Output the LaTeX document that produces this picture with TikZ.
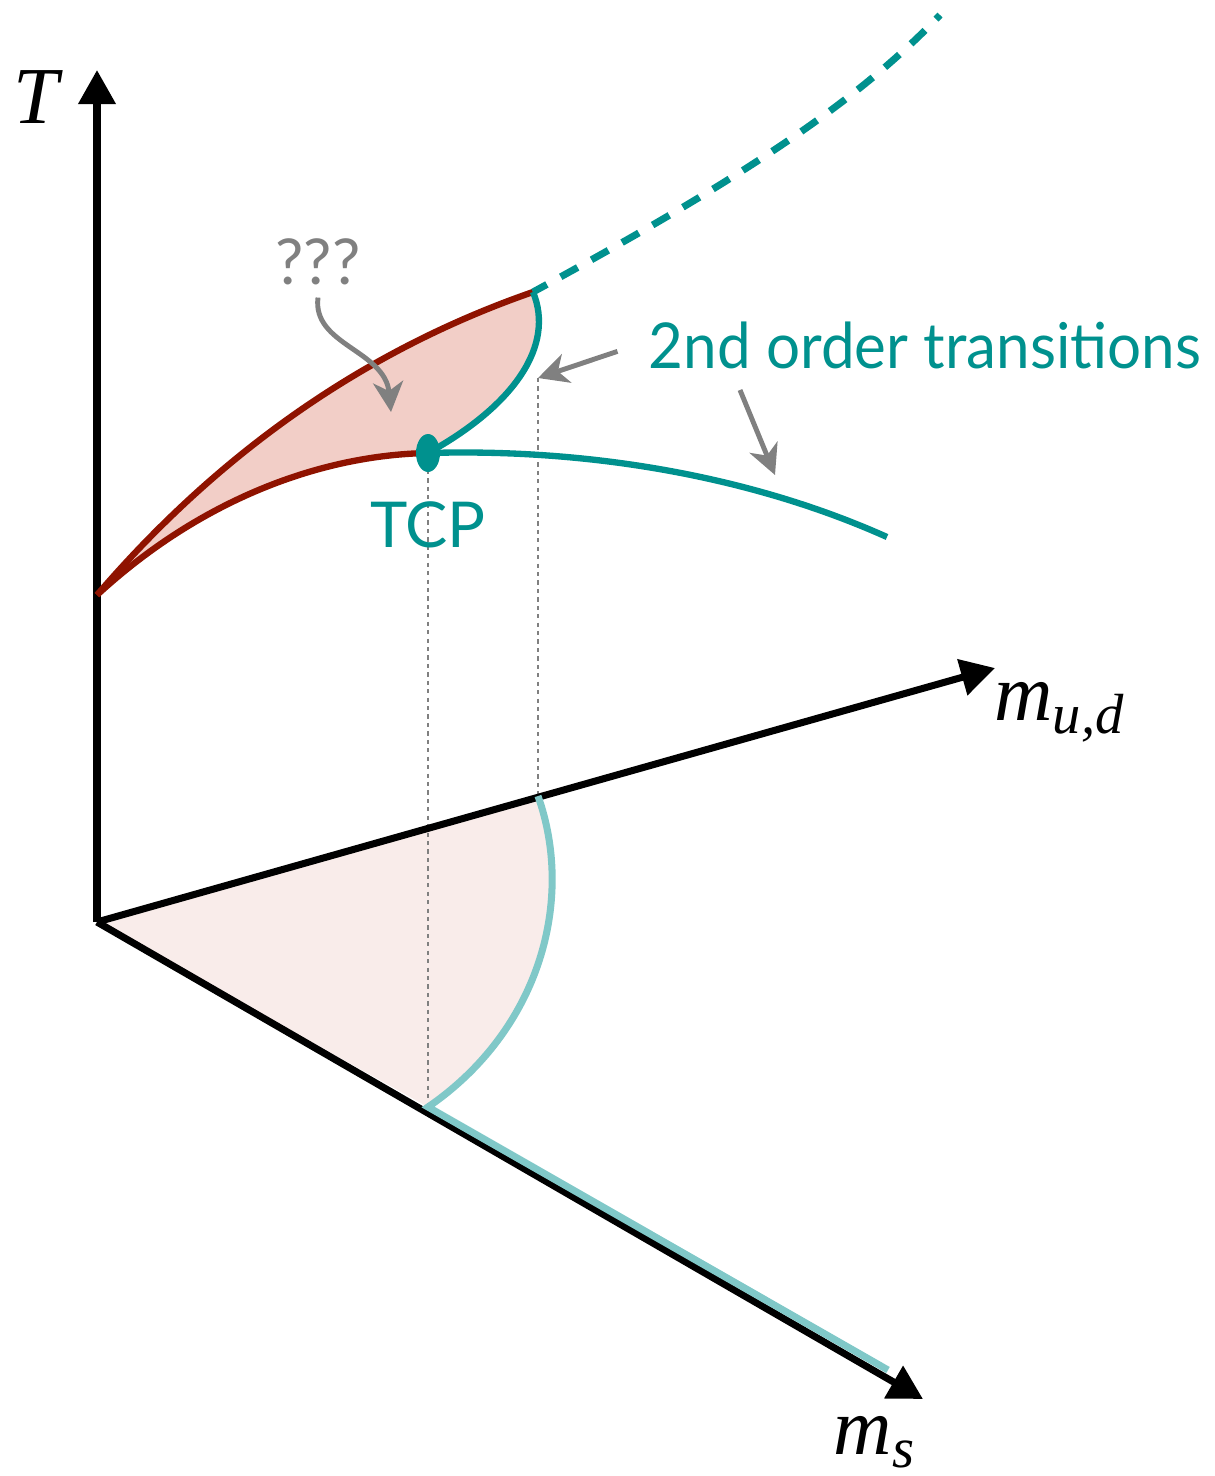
\documentclass[tikz,border=0pt]{standalone}
\usepackage{amsmath}
\usepackage{fontspec}
\setmainfont{Liberation Serif}
\newfontfamily\labelfont{Lato}
\usetikzlibrary{arrows.meta,shapes.geometric}
\definecolor{tcpteal}{HTML}{00918E}
\definecolor{lightteal}{HTML}{80C8C8}
\definecolor{firstred}{HTML}{8F1300}
\definecolor{regionpink}{HTML}{F2CEC7}
\definecolor{floorpink}{HTML}{F9ECEA}
\tikzset{
  axis/.style={line width=2pt,-{Triangle[length=3.4mm,width=3.6mm]}},
  firstorder/.style={firstred,line width=1.8pt},
  secondorder/.style={tcpteal,line width=1.8pt},
  pointer/.style={gray,line width=1.4pt,-{Stealth[length=3mm,width=3mm,inset=0.9mm]}},
  guide/.style={gray,line width=0.5pt,dash pattern=on 1.2pt off 1.2pt},
  lbl/.style={font=\labelfont\fontsize{18}{20}\selectfont},
  axlbl/.style={font=\fontsize{23}{27}\selectfont},
}
\begin{document}
\begin{tikzpicture}[x=0.1mm,y=-0.1mm]
  \useasboundingbox (0,0) rectangle (1215,1476);
  \coordinate (O) at (97,922);
  \coordinate (Ttip) at (97,70); \coordinate (mudtip) at (995,668); \coordinate (mstip) at (923,1399);
  \coordinate (start) at (97,595); \coordinate (tip) at (533,292); \coordinate (crit) at (428,453);
  \coordinate (udfoot) at (538,796); \coordinate (sfoot) at (428,1107); \coordinate (msend) at (888,1370);
  \coordinate (loopmark) at (538,378); \coordinate (tcpend) at (887,537); \coordinate (farend) at (940,15);
  \coordinate (qmark) at (391,412); \coordinate (arrstart) at (740,390); \coordinate (rightmark) at (775,475);
  % shaded regions
  \fill[regionpink] (start) .. controls (230,440) and (380,345) .. (tip) .. controls (555,345) and (515,405) .. (crit) .. controls (320,455) and (200,500) .. (start);
  \fill[floorpink] (O) -- (udfoot) .. controls (575,900) and (540,1030) .. (sfoot) -- cycle;
  \draw[guide] (crit) -- (sfoot); \draw[guide] (loopmark) -- (udfoot);
  % axes
  \draw[axis] (O) -- (Ttip); \draw[axis] (O) -- (mudtip); \draw[axis] (O) -- (mstip);
  \node[axlbl] (Tlabel) at (38,97) {\textit{T}};
  \node[axlbl] (mudlabel) at (1060,712) {$\textit{m}_{\textit{u,d}}$};
  \node[axlbl] (mslabel) at (875,1442) {$\textit{m}_{\textit{s}}$};
  % projection on the mass plane
  \draw[lightteal,line width=2pt] (udfoot) .. controls (575,900) and (540,1030) .. (sfoot) -- (msend);
  % transition lines
  \draw[firstorder] (start) .. controls (230,440) and (380,345) .. (tip);
  \draw[firstorder] (start) .. controls (200,500) and (320,455) .. (crit);
  \draw[secondorder] (tip) .. controls (555,345) and (515,405) .. (crit);
  \draw[secondorder] (crit) .. controls (600,448) and (760,480) .. (tcpend);
  \draw[secondorder,line width=2pt,dash pattern=on 5.5pt off 4.5pt,dash phase=1pt] (tip) .. controls (720,190) and (850,110) .. (farend);
  \node[ellipse,fill=tcpteal,inner sep=0pt,minimum width=2.4mm,minimum height=3.8mm] (tcpdot) at (crit) {};
  % labels
  \node[lbl,text=tcpteal] (tcplabel) at (428,525) {TCP};
  \node[lbl,text=gray] (qlabel) at (318,262) {???};
  \node[lbl,text=tcpteal] (sndlabel) at (925,345) {\scalebox{0.95}[1]{2nd order transitions}};
  \draw[pointer] (qlabel.south) .. controls (312,345) and (385,350) .. (qmark);
  \draw[pointer,shorten <=2mm] (sndlabel.west) -- (loopmark);
  \draw[pointer] (arrstart) -- (rightmark);
\end{tikzpicture}
\end{document}
